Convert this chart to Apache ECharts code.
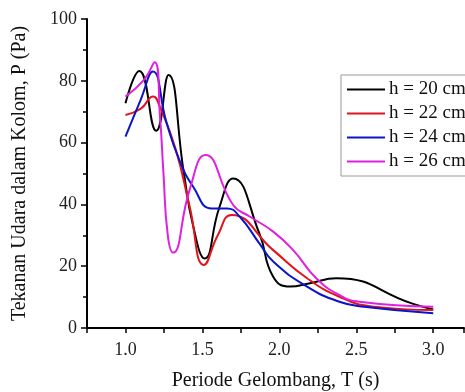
<!DOCTYPE html>
<html>
<head>
<meta charset="utf-8"/>
<title>Tekanan Udara</title>
<script src="https://cdn.jsdelivr.net/npm/echarts@6/dist/echarts.min.js"></script>
</head>
<body style="margin:0;background:#fff;">
<div id="main" style="width:465px;height:392px;"></div>
<script type="text/javascript">
// data: [T (s), P (Pa)]
var seriesNames = ['h = 20 cm', 'h = 22 cm', 'h = 24 cm', 'h = 26 cm'];
var seriesColors = ['#000000', '#e0141c', '#0a14c8', '#e020e0'];
var h20 = [[1.0,72.7],[1.09,83.2],[1.2,63.8],[1.28,81.9],[1.38,50],[1.44,33],[1.515,22.5],[1.61,39],[1.70,48.4],[1.87,30.6],[1.96,16.6],[2.07,13.4],[2.2,14.5],[2.37,16.1],[2.87,7.8],[3.0,6.0]];
var h22 = [[1.0,68.9],[1.1,71],[1.18,74.9],[1.22,72],[1.326,57.9],[1.417,39.3],[1.51,20.4],[1.6,30],[1.69,36.6],[1.96,25.2],[2.18,16.1],[2.39,10.1],[2.6,7],[3.0,5.8]];
var h24 = [[1.0,61.9],[1.1,74],[1.178,83],[1.265,66.8],[1.35,54.4],[1.44,45.7],[1.56,38.7],[1.66,38.7],[1.743,36],[1.87,27.4],[1.96,21.5],[2.18,13.4],[2.39,8.5],[2.55,6.9],[3.0,4.8]];
var h26 = [[1.0,74.9],[1.12,80.3],[1.19,86],[1.225,68],[1.247,50],[1.275,30],[1.31,24.4],[1.417,44.7],[1.52,56],[1.7,39.8],[1.81,36],[1.96,31.2],[2.09,25.2],[2.24,16.1],[2.39,10.7],[2.52,8.5],[3.0,6.9]];
var xLabels = ['1.0', '1.5', '2.0', '2.5', '3.0'];

var allData = [h20, h22, h24, h26];
var font = 'Liberation Serif';

var series = [];
for (var i = 0; i < allData.length; i++) {
  series.push({
    name: seriesNames[i],
    type: 'line',
    data: allData[i],
    smooth: 0.5,
    symbol: 'none',
    lineStyle: { width: 2, color: seriesColors[i] },
    itemStyle: { color: seriesColors[i] }
  });
}

var myChart = echarts.init(document.getElementById('main'));
var option = {
  animation: false,
  backgroundColor: '#fff',
  grid: { left: 87, right: 1, top: 19, bottom: 64, outerBoundsMode: 'none', containLabel: false },
  legend: {
    orient: 'vertical',
    left: 341, top: 75,
    data: seriesNames,
    icon: 'rect',
    itemWidth: 38, itemHeight: 2,
    itemGap: 5,
    padding: [5, 10, 5, 6],
    borderColor: '#999', borderWidth: 1,
    backgroundColor: '#fff',
    textStyle: { fontFamily: font, fontSize: 19, color: '#111', padding: [0, 0, 0, -1] }
  },
  xAxis: {
    type: 'value',
    min: 0.75, max: 3.2, interval: 0.25,
    name: 'Periode Gelombang, T (s)',
    nameLocation: 'middle', nameGap: 43,
    nameTextStyle: { fontFamily: font, fontSize: 20, color: '#111' },
    splitLine: { show: false },
    axisLine: { lineStyle: { color: '#000', width: 2 } },
    axisTick: { length: 5, lineStyle: { color: '#000', width: 1.5 } },
    axisLabel: {
      fontFamily: font, fontSize: 18, color: '#222', margin: 13,
      formatter: function (v) {
        var s = v.toFixed(1);
        return xLabels.indexOf(s) >= 0 && Math.abs(v * 2 - Math.round(v * 2)) < 1e-6 ? s : '';
      }
    }
  },
  yAxis: {
    type: 'value',
    min: 0, max: 100, interval: 20,
    name: 'Tekanan Udara dalam Kolom, P (Pa)',
    nameLocation: 'middle', nameGap: 57,
    nameTextStyle: { fontFamily: font, fontSize: 20, color: '#111' },
    splitLine: { show: false },
    axisLine: { show: true, lineStyle: { color: '#000', width: 2 } },
    axisTick: { show: true, length: 6, lineStyle: { color: '#000', width: 1.5 } },
    minorTick: { show: true, splitNumber: 2, length: 4, lineStyle: { color: '#000', width: 1.5 } },
    axisLabel: { fontFamily: font, fontSize: 18, color: '#222', margin: 10 }
  },
  series: series
};
myChart.setOption(option);
</script>
</body>
</html>
